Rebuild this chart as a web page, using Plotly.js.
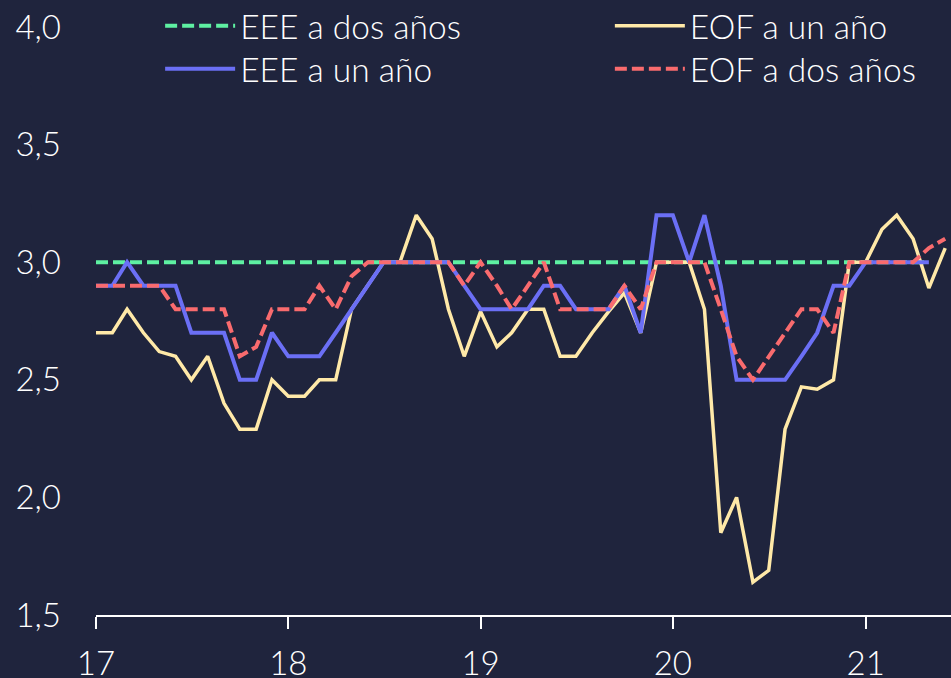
<!DOCTYPE html>
<html><head><meta charset="utf-8">
<script src="https://cdn.plot.ly/plotly-3.0.1.min.js"></script>
<style>html,body{margin:0;padding:0;background:#1f243d;}#chart{width:951px;height:678px;}</style>
</head><body><div id="chart"></div>
<script>
const months = [
 "2017-01-01","2017-02-01","2017-03-01","2017-04-01","2017-05-01","2017-06-01","2017-07-01","2017-08-01","2017-09-01","2017-10-01","2017-11-01","2017-12-01",
 "2018-01-01","2018-02-01","2018-03-01","2018-04-01","2018-05-01","2018-06-01","2018-07-01","2018-08-01","2018-09-01","2018-10-01","2018-11-01","2018-12-01",
 "2019-01-01","2019-02-01","2019-03-01","2019-04-01","2019-05-01","2019-06-01","2019-07-01","2019-08-01","2019-09-01","2019-10-01","2019-11-01","2019-12-01",
 "2020-01-01","2020-02-01","2020-03-01","2020-04-01","2020-05-01","2020-06-01","2020-07-01","2020-08-01","2020-09-01","2020-10-01","2020-11-01","2020-12-01",
 "2021-01-01","2021-02-01","2021-03-01","2021-04-01","2021-05-01","2021-06-01"
];
const eeeDos = [3.0,3.0,3.0,3.0,3.0,3.0,3.0,3.0,3.0,3.0,3.0,3.0,3.0,3.0,3.0,3.0,3.0,3.0,3.0,3.0,3.0,3.0,3.0,3.0,3.0,3.0,3.0,3.0,3.0,3.0,3.0,3.0,3.0,3.0,3.0,3.0,3.0,3.0,3.0,3.0,3.0,3.0,3.0,3.0,3.0,3.0,3.0,3.0,3.0,3.0,3.0,3.0,3.0];
const eeeUn = [2.9,2.9,3.0,2.9,2.9,2.9,2.7,2.7,2.7,2.5,2.5,2.7,2.6,2.6,2.6,2.7,2.8,2.9,3.0,3.0,3.0,3.0,3.0,2.9,2.8,2.8,2.8,2.8,2.9,2.9,2.8,2.8,2.8,2.9,2.7,3.2,3.2,3.0,3.2,2.9,2.5,2.5,2.5,2.5,2.6,2.7,2.9,2.9,3.0,3.0,3.0,3.0,3.0];
const eofUn = [2.7,2.7,2.8,2.7,2.62,2.6,2.5,2.6,2.4,2.29,2.29,2.5,2.43,2.43,2.5,2.5,2.8,2.9,3.0,3.0,3.2,3.1,2.8,2.6,2.79,2.64,2.7,2.8,2.8,2.6,2.6,2.7,2.79,2.87,2.7,3.0,3.0,3.0,2.8,1.85,2.0,1.64,1.69,2.29,2.47,2.46,2.5,3.0,3.0,3.14,3.2,3.1,2.89,3.06];
const eofDos = [2.9,2.9,2.9,2.9,2.9,2.8,2.8,2.8,2.8,2.6,2.64,2.8,2.8,2.8,2.9,2.8,2.94,3.0,3.0,3.0,3.0,3.0,3.0,2.9,3.0,2.9,2.8,2.9,3.0,2.8,2.8,2.8,2.8,2.9,2.8,3.0,3.0,3.0,3.0,2.8,2.6,2.5,2.6,2.7,2.8,2.8,2.7,3.0,3.0,3.0,3.0,3.0,3.06,3.1];
const names = ["EEE a dos años","EOF a un año","EEE a un año","EOF a dos años"];
const yTicks = [1.5,2.0,2.5,3.0,3.5,4.0];

const FONT = {family:"Lato, 'Open Sans', sans-serif", size:33, color:"#ffffff", weight:300};
const LEGFONT = {family:"Lato, 'Open Sans', sans-serif", size:33.5, color:"#ffffff", weight:300};
const traces = [
 {x:months.slice(0,eeeDos.length), y:eeeDos, name:names[0], legend:"legend", mode:"lines", line:{color:"#5ef0a2", width:4, dash:"12px,5px"}},
 {x:months.slice(0,eofUn.length), y:eofUn, name:names[1], legend:"legend2", mode:"lines", line:{color:"#ffe9a8", width:3.5}},
 {x:months.slice(0,eeeUn.length), y:eeeUn, name:names[2], legend:"legend3", mode:"lines", line:{color:"#6b6ff5", width:4}},
 {x:months.slice(0,eofDos.length), y:eofDos, name:names[3], legend:"legend4", mode:"lines", line:{color:"#f96b6e", width:4, dash:"12px,5px"}}
];
function leg(x, y){
  return {orientation:"v", x:x, xanchor:"left", y:y, yanchor:"top", bgcolor:"rgba(0,0,0,0)",
   itemwidth:70, font:LEGFONT, tracegroupgap:0};
}
const row1 = 1.0502, row2 = 0.977, col1 = 0.075, col2 = 0.601;
const layout = {
 width:951, height:678,
 paper_bgcolor:"#1f243d", plot_bgcolor:"#1f243d",
 margin:{l:96, r:0, t:27, b:63, autoexpand:false},
 separators:",.",
 font:FONT,
 showlegend:true,
 legend:leg(col1,row1), legend2:leg(col2,row1), legend3:leg(col1,row2), legend4:leg(col2,row2),
 xaxis:{type:"date", range:["2017-01-01","2021-06-12"], tickformat:"%y", dtick:"M12", tick0:"2017-01-01",
   showgrid:false, zeroline:false, showline:true, linecolor:"#ffffff", linewidth:2,
   ticks:"outside", ticklen:12, tickwidth:2, tickcolor:"#ffffff", ticklabelstandoff:6, tickfont:FONT, automargin:false},
 yaxis:{range:[1.5,4.0], tickvals:yTicks, tickformat:".1f", showgrid:false, zeroline:false, showline:false,
   ticks:"", ticklabelstandoff:34, tickfont:FONT, automargin:false}
};
Plotly.newPlot("chart", traces, layout, {displayModeBar:false, staticPlot:true});
</script></body></html>
